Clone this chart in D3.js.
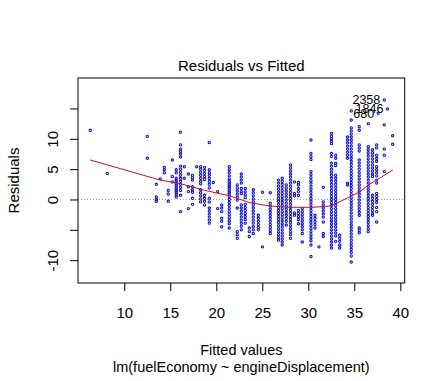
<!DOCTYPE html>
<html><head><meta charset="utf-8">
<script src="https://cdnjs.cloudflare.com/ajax/libs/d3/7.8.5/d3.min.js"></script>
<style>body{margin:0;background:#fff;}svg{display:block;}text{font-family:"Liberation Sans",Arial,sans-serif;fill:#000;}</style>
</head><body>
<script>
// fitted value of each column of observations
const fittedValues = [6.30, 8.15, 12.50, 13.48, 13.91, 14.35, 14.78, 15.22, 15.65, 16.11, 16.52, 16.96, 17.41, 17.87, 18.30, 18.72, 19.24, 19.67, 20.15, 20.59, 21.41, 22.28, 22.72, 23.15, 23.59, 24.02, 24.57, 25.02, 25.87, 26.76, 27.17, 27.61, 28.07, 28.50, 28.93, 29.35, 30.29, 30.73, 31.16, 31.63, 32.52, 32.98, 33.41, 34.26, 34.67, 35.54, 36.52, 36.98, 37.43, 38.26, 39.17];
// residuals observed at each fitted value (same order)
const residuals = [
  [11.4],
  [4.3],
  [10.4, 6.8],
  [2.5, 0.4, 0.0, -0.3],
  [3.4],
  [5.3, 4.9, 4.4],
  [1.5, 0.9, -0.3],
  [6.5, 3.8, 2.9],
  [4.9, 4.4, 3.5, 3.2, 2.9, 2.6, 2.3, 2.0, 1.7, 1.4, 1.1, 0.8, 0.4],
  [11.1, 9.0, 8.3, 7.9, 7.5, 7.0, 5.5, 5.0, 4.5, 4.0, 3.5, 3.0, 2.5, 2.0, 1.5, 0.7, -2.0],
  [5.4, 3.5],
  [4.2, 2.1, 1.3, -1.5],
  [4.0, 3.6, 3.2, 2.1, 1.6, 1.2, 0.2, -0.8],
  [5.4],
  [5.4, 5.0, 4.5, 4.0, 3.5, 3.0, 2.6, 1.6, 1.1, 0.6, 0.1, -0.4],
  [5.3, 4.8, 4.3, 3.8, 3.3, 0.7, 0.2, -0.3, -0.9],
  [9.4, 4.9, 4.4, 4.0, 3.5, 3.0, 2.5, 1.9, 0.2, -0.4, -1.4, -1.9, -2.4, -2.9, -3.4, -3.9],
  [2.8],
  [1.3, -1.5],
  [-0.9, -1.4, -2.0, -3.1, -3.6, -4.5],
  [5.4, 4.9, 4.4, 3.9, 3.4, 3.0, 2.7, 2.4, 2.1, 1.8, 1.5, 1.2, 0.9, 0.5, 0.0, -0.5, -1.0, -1.5, -2.0, -2.5, -3.0, -3.5, -4.0, -4.7],
  [2.4, 1.9, 1.4, 0.9, 0.4, -0.1, -1.4, -5.3, -5.8, -6.4],
  [4.2, 3.7, 3.2, 2.7, 1.8, 1.3, 1.0, -0.9, -1.4, -1.9, -2.4, -2.9, -3.4, -3.9, -4.4, -5.0],
  [1.8, 1.3, 0.8, 0.3, -0.8, -1.3, -1.8, -2.3, -2.8, -3.3, -3.9],
  [-4.7, -5.3, -6.1],
  [1.6, 1.1, 0.6, 0.1, -0.4, -0.9, -1.4, -1.9, -2.4, -2.9, -3.4, -3.9, -4.5, -5.0, -5.6],
  [-2.6, -3.1, -3.6, -4.1, -4.6, -5.0],
  [1.2, -7.8],
  [1.1, -0.6, -1.1, -1.6, -2.1, -2.6, -3.1, -3.6, -4.1, -4.6, -5.1, -5.6],
  [3.2, 2.7, 2.2, 1.7, 1.2, 0.7, 0.2, -0.3, -0.8, -1.3, -1.8, -2.3, -2.8, -3.3, -3.8, -4.3, -4.8, -5.3, -5.8, -6.3, -6.7],
  [3.5, 3.0, 2.5, 2.0, 1.5, 1.0, 0.5, 0.0, -0.5, -1.0, -1.5, -2.0, -2.5, -3.0, -3.5, -4.0, -4.5, -5.0, -5.5, -6.0, -6.5, -7.0, -7.5],
  [2.4, 1.9, 1.4, 0.9, 0.4, -0.1, -0.6, -1.1, -1.6, -2.1, -2.6, -3.1, -3.6, -4.2],
  [5.7, 5.2, 4.7, 4.2, 3.7, 3.2, 2.7, 2.2, 1.7, 1.2, 0.7, 0.2, -0.3, -0.8, -1.3, -1.8, -2.3, -2.8, -3.3, -3.8, -4.3, -4.8, -5.3, -5.8, -6.4],
  [2.9, 1.0, 0.6, -2.2, -2.6],
  [2.8, 2.4, 1.8, 1.3, 0.7, -1.8, -2.3, -2.8, -3.3, -4.0],
  [-1.5, -2.0, -2.5, -3.0, -3.5, -4.0, -4.5, -5.0, -5.6, -7.0],
  [9.8, 7.6, 7.1, 6.6, 4.6, 4.1, 3.6, 3.1, 2.7, 2.2, 1.7, 1.2, 0.7, 0.2, -0.3, -0.8, -1.3, -1.8, -2.3, -2.8, -3.3, -3.8, -4.3, -4.8, -5.3, -5.8, -6.3, -6.8, -7.5, -9.4],
  [-2.6, -3.1, -3.6, -4.1, -4.7],
  [-7.8],
  [2.0, -0.4, -0.9, -1.4, -1.9, -2.4, -2.9, -3.7, -5.6, -6.1],
  [10.9, 10.4, 10.0, 9.6, 9.2, 7.6, 7.1, 6.0, 5.5, 5.0, 4.5, 4.0, 3.5, 3.0, 2.5, 2.0, 1.5, 1.0, 0.5, 0.0, -0.5, -1.0, -1.5, -2.0, -2.5, -3.0, -3.5, -4.0, -4.5, -5.0, -5.5, -6.0, -6.5, -7.0, -7.5, -8.0],
  [7.3, 6.8, 6.0, 5.6, 4.0, 3.5, 3.0, 2.5, 2.0, 1.5, 1.0, 0.5, 0.0, -0.5, -1.0, -1.5, -2.0, -2.5, -3.0, -3.5, -4.0, -4.5, -5.0, -5.5, -6.0, -6.9],
  [-5.9, -6.4, -6.9, -7.5, -8.0],
  [10.3, 9.8, 9.3, 8.8, 8.3, 7.8, 7.3, 6.8, 2.7, 2.4],
  [14.6, 13.1, 11.8, 11.3, 10.8, 10.3, 9.8, 9.3, 8.8, 8.3, 7.8, 7.3, 6.8, 6.3, 5.8, 5.3, 4.8, 4.3, 3.8, 3.3, 2.8, 2.3, 1.8, 1.3, 0.8, 0.3, -0.2, -0.7, -1.2, -1.7, -2.2, -2.7, -3.2, -3.7, -4.2, -4.7, -5.2, -5.7, -6.2, -6.7, -7.2, -7.7, -8.2, -8.7, -9.3, -10.3],
  [12.0, 11.4, 9.0, 8.5, 8.0, 6.5, 6.0, 5.5, 5.0, 4.4, 3.9, 3.4, 2.9, 2.4, 1.9, 1.4, 0.9, 0.4, -0.1, -0.6, -1.1, -1.6, -2.1, -2.6, -4.7, -5.1, -5.5],
  [12.5, 8.7, 8.2, 7.7, 7.2, 6.7, 6.2, 5.7, 5.2, 4.7, 4.2, 3.7, 3.2, 2.7, 2.2, 1.7, 1.2, 0.7, 0.2, -0.3, -0.8, -1.3, -1.8, -2.3, -2.8, -3.3, -3.8, -4.3, -4.8, -5.3],
  [8.2, 7.7, 7.2, 6.7, 6.2, 5.7, 5.2, 4.7, 4.2, 3.8, 0.7, 0.2, -0.3, -0.8, -1.3, -1.8, -2.3, -2.6],
  [9.0, 8.5, 7.3, 6.8, 6.3, 5.4, 4.9, 4.4, 3.9, 3.2, 2.7, 1.0, 0.5, 0.0, -0.5, -1.3, -2.0, -3.7],
  [12.3, 8.3, 7.3, 4.6],
  [10.5, 9.1]
];
// the three most extreme residuals, labelled by observation number
const idLabels = ["2358", "1846", "680"];
const idFitted = [38.26, 38.60, 37.60];
const idResiduals = [16.4, 14.9, 14.2];
// lowess smoother of residuals on fitted values
const smoothFitted = [6.30, 13.88, 16.24, 18.59, 21.49, 23.66, 25.84, 28.01, 30.37, 32.36, 33.45, 34.53, 35.62, 36.52, 37.43, 39.17];
const smoothResid  = [6.51, 3.21, 2.55, 1.57, 0.58, -0.53, -1.07, -1.29, -1.29, -1.07, -0.36, 0.46, 1.29, 2.39, 3.21, 4.86];
// axis ticks
const xTicks = [10, 15, 20, 25, 30, 35, 40];
const yTicks = [-10, -5, 0, 5, 10, 15];
const yTickLabels = ["-10", "", "0", "5", "10", ""];

const W = 445, H = 381;
const pL = 78, pR = 404.7, pT = 78, pB = 283;
const svg = d3.select("body").append("svg").attr("width", W).attr("height", H);

const x = d3.scaleLinear().domain([4.97, 40.48]).range([pL, pR]);
const y = d3.scaleLinear().domain([-13.76, 20.02]).range([pB, pT]);

// zero reference line
svg.append("line").attr("x1", pL).attr("x2", pR).attr("y1", y(0)).attr("y2", y(0))
  .attr("stroke", "#a0a0a0").attr("stroke-width", 1).attr("stroke-dasharray", "1,2");

// points
const pts = [];
fittedValues.forEach((f, i) => residuals[i].forEach(r => pts.push([f, r])));
idFitted.forEach((f, i) => pts.push([f, idResiduals[i]]));
svg.append("g").selectAll("circle").data(pts).join("circle")
  .attr("cx", d => x(d[0])).attr("cy", d => y(d[1])).attr("r", 1.15)
  .attr("fill", "none").attr("stroke", "#1414c8").attr("stroke-width", 1.1);

// smoother
svg.append("path").datum(smoothFitted.map((f, i) => [f, smoothResid[i]]))
  .attr("d", d3.line().x(d => x(d[0])).y(d => y(d[1])))
  .attr("fill", "none").attr("stroke", "#c8102e").attr("stroke-width", 1);

// id labels (placed to the left of the point)
svg.append("g").selectAll("text").data(idLabels).join("text")
  .attr("x", (d, i) => x(idFitted[i]) - 4).attr("y", (d, i) => y(idResiduals[i]))
  .attr("dy", "0.35em").attr("text-anchor", "end").attr("font-size", 12.5).text(d => d);

// box
svg.append("rect").attr("x", pL).attr("y", pT).attr("width", pR - pL).attr("height", pB - pT)
  .attr("fill", "none").attr("stroke", "#000").attr("stroke-width", 1);

// x axis
const gx = svg.append("g").attr("transform", `translate(0,${pB})`)
  .call(d3.axisBottom(x).tickValues(xTicks).tickSize(8).tickSizeOuter(0));
gx.select(".domain").remove();
gx.selectAll("line").attr("stroke", "#000");
gx.selectAll("text").attr("y", 35).attr("dy", null).attr("font-size", 15).attr("font-family", null);

// y axis
const gy = svg.append("g").attr("transform", `translate(${pL},0)`)
  .call(d3.axisLeft(y).tickValues(yTicks).tickSize(8).tickSizeOuter(0).tickFormat((d, i) => yTickLabels[i]));
gy.select(".domain").remove();
gy.selectAll("line").attr("stroke", "#000");
gy.selectAll("text").attr("x", null).attr("dy", null).attr("font-size", 15).attr("font-family", null)
  .attr("text-anchor", "middle").attr("transform", "translate(-20,0) rotate(-90)");

// titles
svg.append("text").attr("x", (pL + pR) / 2).attr("y", 71).attr("text-anchor", "middle")
  .attr("font-size", 15).text("Residuals vs Fitted");
svg.append("text").attr("x", (pL + pR) / 2).attr("y", 355).attr("text-anchor", "middle")
  .attr("font-size", 14.5).text("Fitted values");
svg.append("text").attr("x", (pL + pR) / 2).attr("y", 371.5).attr("text-anchor", "middle")
  .attr("font-size", 14.5).text("lm(fuelEconomy ~ engineDisplacement)");
svg.append("text").attr("transform", `translate(19,${(pT + pB) / 2}) rotate(-90)`)
  .attr("text-anchor", "middle").attr("font-size", 15).text("Residuals");
</script>
</body></html>
